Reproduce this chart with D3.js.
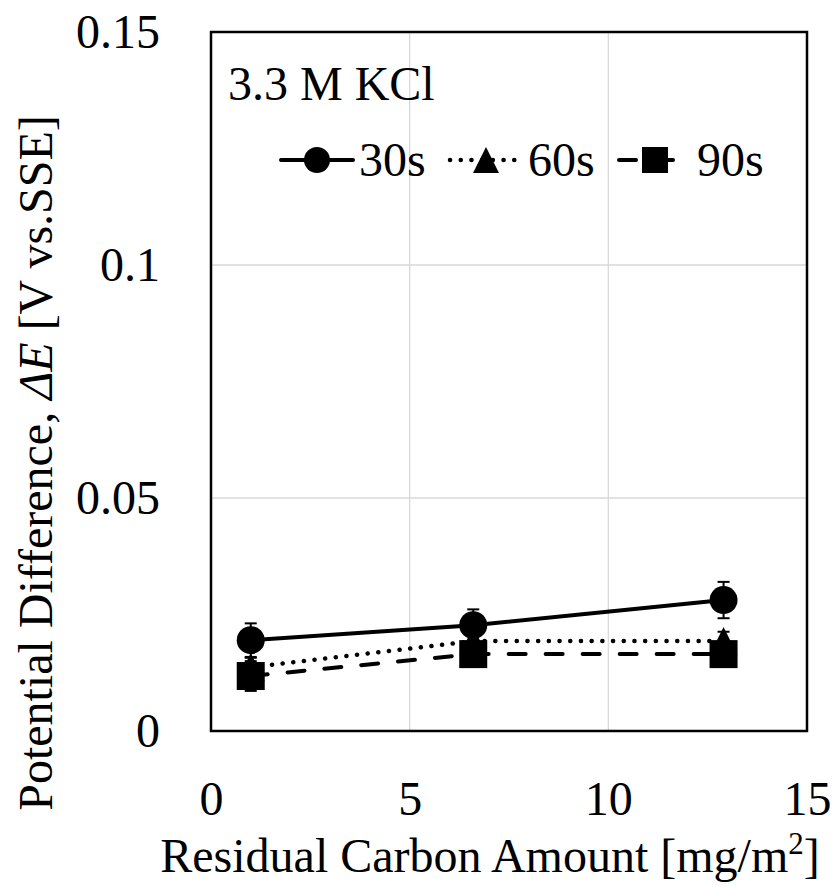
<!DOCTYPE html>
<html>
<head>
<meta charset="utf-8">
<script src="https://cdn.jsdelivr.net/npm/d3@7"></script>
<style>
  body { margin: 0; background: #fff; }
  text { font-family: "Liberation Serif", "Times New Roman", serif; fill: #000; }
</style>
</head>
<body>
<div id="chart"></div>
<script>
// data
const carbonAmount = [1.0, 6.6, 12.9];
const seriesNames = ['30s', '60s', '90s'];
const dE30 = [0.0195, 0.0227, 0.0281];
const err30 = [0.0036, 0.0034, 0.0039];
const dE60 = [0.0137, 0.0193, 0.0193];
const err60 = [0.0020, 0.0020, 0.0020];
const dE90 = [0.0118, 0.0165, 0.0165];
const err90 = [0.0032, 0.0020, 0.0020];
const xTicks = [0, 5, 10, 15];
const yTicks = [0, 0.05, 0.1, 0.15];
const yTickLabels = ['0', '0.05', '0.1', '0.15'];

const width = 835, height = 891;
const plotLeft = 211, plotRight = 807, plotTop = 32, plotBottom = 731;
const fontSize = 48;

const series = [
    {name: seriesNames[0], values: dE30, err: err30, marker: 'circle', dash: null},
    {name: seriesNames[1], values: dE60, err: err60, marker: 'triangle', dash: '0.1,10.6'},
    {name: seriesNames[2], values: dE90, err: err90, marker: 'square', dash: '17,20'}
];

const svg = d3.select('#chart').append('svg')
    .attr('width', width)
    .attr('height', height);

const x = d3.scaleLinear().domain([0, 15]).range([plotLeft, plotRight]);
const y = d3.scaleLinear().domain([0, 0.15]).range([plotBottom, plotTop]);

//grid
svg.selectAll('.vgrid').data(xTicks.slice(1, -1)).enter().append('line')
    .attr('x1', d => x(d)).attr('x2', d => x(d))
    .attr('y1', plotTop).attr('y2', plotBottom)
    .style('stroke', '#d9d9d9').style('stroke-width', 1.3);
svg.selectAll('.hgrid').data(yTicks.slice(1, -1)).enter().append('line')
    .attr('x1', plotLeft).attr('x2', plotRight)
    .attr('y1', d => y(d)).attr('y2', d => y(d))
    .style('stroke', '#d9d9d9').style('stroke-width', 1.3);

//axes (labels only, the frame is drawn below)
const xAxis = svg.append('g')
    .attr('transform', 'translate(0,' + plotBottom + ')')
    .call(d3.axisBottom(x).tickValues(xTicks).tickSize(0).tickPadding(50));
const yAxis = svg.append('g')
    .attr('transform', 'translate(' + plotLeft + ',0)')
    .call(d3.axisLeft(y).tickValues(yTicks).tickSize(0).tickPadding(51)
        .tickFormat((d, i) => yTickLabels[i]));
[xAxis, yAxis].forEach(a => {
    a.select('.domain').remove();
    a.selectAll('text')
        .style('font-family', '"Liberation Serif", serif')
        .style('font-size', fontSize + 'px')
        .attr('fill', '#000');
});

//frame
svg.append('rect')
    .attr('x', plotLeft).attr('y', plotTop)
    .attr('width', plotRight - plotLeft).attr('height', plotBottom - plotTop)
    .style('fill', 'none').style('stroke', '#000').style('stroke-width', 2.5);

//marker drawing
const msize = 28;
function drawMarker(g, type, cx, cy, s){
    if(type == 'circle'){
        g.append('circle').attr('cx', cx).attr('cy', cy).attr('r', s / 2).attr('fill', '#000');
    }
    else if(type == 'square'){
        g.append('rect').attr('x', cx - s / 2).attr('y', cy - s / 2)
            .attr('width', s).attr('height', s).attr('fill', '#000');
    }
    else{
        g.append('path')
            .attr('d', 'M' + cx + ',' + (cy - s / 2) + 'L' + (cx + s / 2) + ',' + (cy + s / 2)
                + 'L' + (cx - s / 2) + ',' + (cy + s / 2) + 'Z')
            .attr('fill', '#000');
    }
}

const line = d3.line().x(d => x(d[0])).y(d => y(d[1]));

series.forEach(s => {
    const g = svg.append('g');
    const pts = carbonAmount.map((c, i) => [c, s.values[i]]);
    g.append('path')
        .attr('d', line(pts))
        .style('fill', 'none')
        .style('stroke', '#000')
        .style('stroke-width', s.dash == '0.1,10.6' ? 4.5 : 4)
        .style('stroke-linecap', 'round')
        .style('stroke-dasharray', s.dash);

    //error bars
    pts.forEach((p, i) => {
        const cx = x(p[0]);
        const y1 = y(p[1] + s.err[i]), y2 = y(p[1] - s.err[i]);
        g.append('line').attr('x1', cx).attr('x2', cx).attr('y1', y1).attr('y2', y2)
            .style('stroke', '#000').style('stroke-width', 2);
        [y1, y2].forEach(yy => {
            g.append('line').attr('x1', cx - 6).attr('x2', cx + 6).attr('y1', yy).attr('y2', yy)
                .style('stroke', '#000').style('stroke-width', 2);
        });
    });

    pts.forEach(p => drawMarker(g, s.marker, x(p[0]), y(p[1]), msize));
});

//annotation
svg.append('text')
    .attr('x', 228).attr('y', 100)
    .style('font-size', fontSize + 'px')
    .text('3.3 M KCl');

//legend
const legendX = [281, 450, 619];
const legendY = 160;
const legendW = 72;
series.forEach((s, i) => {
    const g = svg.append('g');
    g.append('line')
        .attr('x1', legendX[i]).attr('x2', legendX[i] + legendW)
        .attr('y1', legendY).attr('y2', legendY)
        .style('stroke', '#000')
        .style('stroke-width', s.dash == '0.1,10.6' ? 4.5 : 4)
        .style('stroke-linecap', 'round')
        .style('stroke-dasharray', s.dash);
    drawMarker(g, s.marker, legendX[i] + legendW / 2, legendY, 26);
    g.append('text')
        .attr('x', legendX[i] + legendW + 6)
        .attr('y', legendY + 16)
        .style('font-size', fontSize + 'px')
        .text(s.name);
});

//axis titles
const xt = svg.append('text')
    .attr('x', 490).attr('y', 872)
    .attr('text-anchor', 'middle')
    .style('font-size', fontSize + 'px');
xt.append('tspan').text('Residual Carbon Amount [mg/m');
xt.append('tspan').attr('dy', -18).style('font-size', '31px').text('2');
xt.append('tspan').attr('dy', 18).text(']');

const yt = svg.append('text')
    .attr('transform', 'translate(52,463) rotate(-90)')
    .attr('text-anchor', 'middle')
    .style('font-size', fontSize + 'px');
yt.append('tspan').text('Potential Difference, ');
yt.append('tspan').style('font-style', 'italic').text('ΔE');
yt.append('tspan').text(' [V vs.SSE]');
</script>
</body>
</html>
